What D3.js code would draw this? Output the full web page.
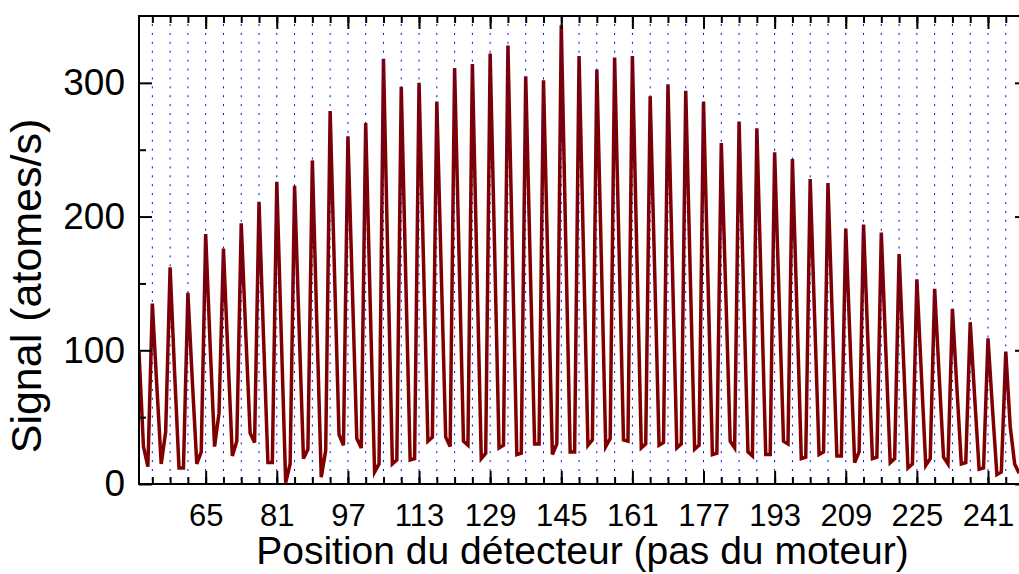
<!DOCTYPE html>
<html>
<head>
<meta charset="utf-8">
<script src="https://cdn.jsdelivr.net/npm/d3@7"></script>
<style>
  body { margin: 0; background: #fff; }
  svg { display: block; font-family: "Liberation Sans", Arial, sans-serif; }
</style>
</head>
<body>
<div id="chart"></div>
<script>
// position du détecteur : pas 50 .. 248
const firstPos = 50;
// signal mesuré (atomes/s), un point par pas du moteur
const signal = [
  99, 28, 13,
  135, 74, 15, 39,
  162, 84, 12, 12,
  143, 77, 15, 24,
  187, 104, 28, 53,
  176, 97, 21, 32,
  195, 114, 38, 31,
  211, 111, 16, 16,
  226, 112, 1, 15,
  223, 119, 19, 26,
  242, 121, 5, 25,
  279, 156, 37, 29,
  260, 146, 34, 27,
  270, 137, 9, 15,
  318, 164, 15, 18,
  297, 156, 18, 19,
  300, 167, 32, 35,
  286, 159, 35, 28,
  311, 171, 32, 29,
  314, 164, 19, 23,
  322, 176, 27, 29,
  328, 173, 22, 23,
  305, 167, 30, 30,
  302, 161, 22, 30,
  343, 182, 24, 24,
  320, 174, 29, 33,
  310, 171, 28, 34,
  319, 175, 33, 32,
  320, 172, 27, 30,
  290, 161, 29, 31,
  299, 162, 27, 30,
  294, 159, 26, 29,
  286, 153, 22, 23,
  255, 144, 32, 27,
  271, 146, 24, 21,
  266, 145, 22, 22,
  248, 139, 32, 30,
  243, 132, 19, 20,
  228, 124, 22, 24,
  225, 122, 21, 21,
  191, 104, 16, 24,
  194, 105, 19, 20,
  188, 101, 16, 19,
  172, 93, 12, 15,
  153, 83, 14, 19,
  146, 82, 20, 15,
  131, 72, 15, 16,
  121, 65, 11, 12,
  109, 57, 7, 9,
  99, 43, 15, 8
];

// graduations
const xMajorTicks = [65, 81, 97, 113, 129, 145, 161, 177, 193, 209, 225, 241];
const xMinorTicks = d3.range(53, 250, 4);
const yMajorTicks = [0, 100, 200, 300];
const yMinorTicks = [50, 150, 250];

const xLabel = 'Position du détecteur (pas du moteur)';
const yLabel = 'Signal (atomes/s)';

const W = 1019, H = 574;
const m = { left: 139, right: 1028, top: 16, bottom: 484 };

const svg = d3.select('#chart').append('svg')
  .attr('width', W).attr('height', H);

const x = d3.scaleLinear().domain([50, 250]).range([m.left, m.right]);
const y = d3.scaleLinear().domain([0, 350]).range([m.bottom, m.top]);

const data = signal.map((v, i) => ({ pos: firstPos + i, value: v }));

// courbe
svg.append('defs').append('clipPath').attr('id', 'clip')
  .append('rect').attr('x', m.left).attr('y', m.top)
  .attr('width', m.right - m.left).attr('height', m.bottom - m.top);

const line = d3.line()
  .x(d => x(d.pos))
  .y(d => y(d.value));

svg.append('path')
  .datum(data)
  .attr('clip-path', 'url(#clip)')
  .attr('fill', 'none')
  .attr('stroke', '#800000')
  .attr('stroke-width', 3.5)
  .attr('stroke-linejoin', 'miter')
  .attr('d', line);

// lignes pointillées bleues (par-dessus la courbe)
svg.append('g')
  .selectAll('line')
  .data(xMinorTicks)
  .join('line')
  .attr('x1', d => x(d)).attr('x2', d => x(d))
  .attr('y1', m.top + 8).attr('y2', m.bottom)
  .attr('stroke', '#0000ff')
  .attr('stroke-width', 1)
  .attr('stroke-dasharray', '2,6.9');

// axes : graduations vers l'intérieur, sur les 4 côtés
const tickStyle = g => {
  g.select('.domain').remove();
  g.selectAll('.tick line').attr('stroke', '#000').attr('stroke-width', 2);
};

svg.append('g').attr('transform', `translate(0,${m.bottom})`)
  .call(d3.axisBottom(x).tickValues(xMinorTicks).tickSize(-7).tickFormat(''))
  .call(tickStyle);
svg.append('g').attr('transform', `translate(0,${m.bottom})`)
  .call(d3.axisBottom(x).tickValues(xMajorTicks).tickSize(-13).tickPadding(20).tickFormat(d3.format('d')))
  .call(tickStyle)
  .selectAll('text').attr('font-size', 31).attr('fill', '#000')
  .attr('font-family', '"Liberation Sans", Arial, sans-serif');

svg.append('g').attr('transform', `translate(0,${m.top})`)
  .call(d3.axisTop(x).tickValues(xMinorTicks).tickSize(-7).tickFormat(''))
  .call(tickStyle);
svg.append('g').attr('transform', `translate(0,${m.top})`)
  .call(d3.axisTop(x).tickValues(xMajorTicks).tickSize(-13).tickFormat(''))
  .call(tickStyle);

svg.append('g').attr('transform', `translate(${m.left},0)`)
  .call(d3.axisLeft(y).tickValues(yMinorTicks).tickSize(-7).tickFormat(''))
  .call(tickStyle);
svg.append('g').attr('transform', `translate(${m.left},0)`)
  .call(d3.axisLeft(y).tickValues(yMajorTicks).tickSize(-13).tickPadding(14).tickFormat(d3.format('d')))
  .call(tickStyle)
  .selectAll('text').attr('font-size', 37).attr('fill', '#000')
  .attr('font-family', '"Liberation Sans", Arial, sans-serif');

svg.append('g').attr('transform', `translate(${m.right},0)`)
  .call(d3.axisRight(y).tickValues(yMinorTicks).tickSize(-7).tickFormat(''))
  .call(tickStyle);
svg.append('g').attr('transform', `translate(${m.right},0)`)
  .call(d3.axisRight(y).tickValues(yMajorTicks).tickSize(-13).tickFormat(''))
  .call(tickStyle);

// cadre
svg.append('rect')
  .attr('x', m.left).attr('y', m.top)
  .attr('width', m.right - m.left).attr('height', m.bottom - m.top)
  .attr('fill', 'none').attr('stroke', '#000').attr('stroke-width', 2);

// titres
svg.append('text')
  .attr('x', (m.left + m.right) / 2 - 1).attr('y', 564)
  .attr('text-anchor', 'middle')
  .attr('font-size', 39)
  .text(xLabel);

svg.append('text')
  .attr('transform', `translate(41,286) rotate(-90)`)
  .attr('text-anchor', 'middle')
  .attr('font-size', 43)
  .text(yLabel);
</script>
</body>
</html>
